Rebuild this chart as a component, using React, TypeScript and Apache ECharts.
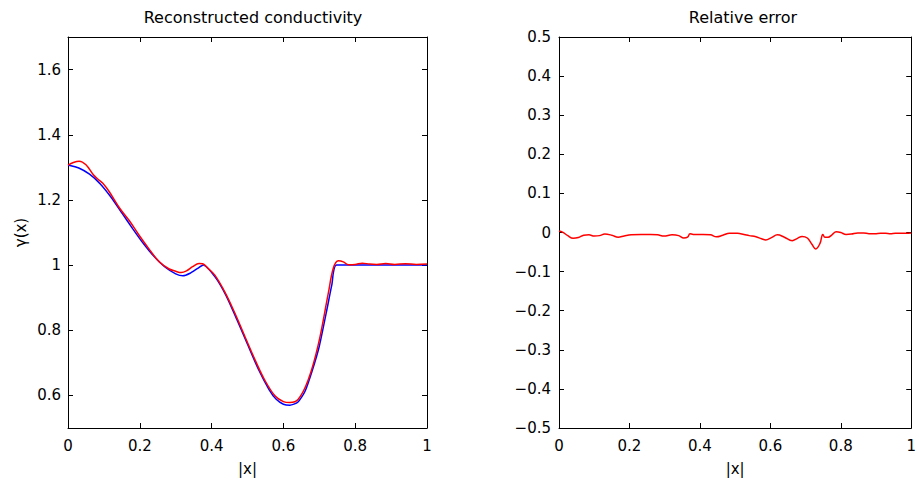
import React, { useEffect, useRef } from "react";
import * as echarts from "echarts";

// True conductivity (blue)
const trueX = [0, 0.03, 0.06, 0.09, 0.12, 0.15, 0.18, 0.21, 0.24, 0.27, 0.3, 0.32, 0.34, 0.36, 0.377, 0.41, 0.44, 0.47, 0.5, 0.53, 0.56, 0.58, 0.6, 0.618, 0.64, 0.66, 0.68, 0.7, 0.72, 0.735, 0.748, 1.0];
const trueY = [1.307, 1.298, 1.279, 1.249, 1.208, 1.16, 1.112, 1.066, 1.026, 0.994, 0.973, 0.967, 0.975, 0.989, 1.0, 0.963, 0.907, 0.834, 0.757, 0.681, 0.618, 0.588, 0.573, 0.57, 0.579, 0.612, 0.675, 0.751, 0.857, 0.94, 1.0, 1.0];

// Reconstructed conductivity (red)
const recX = [0, 0.015, 0.031, 0.05, 0.07, 0.085, 0.097, 0.115, 0.143, 0.171, 0.199, 0.226, 0.254, 0.282, 0.3, 0.315, 0.33, 0.347, 0.365, 0.375, 0.39, 0.409, 0.437, 0.465, 0.493, 0.521, 0.549, 0.577, 0.6, 0.618, 0.642, 0.669, 0.697, 0.725, 0.739, 0.753, 0.767, 0.781, 0.8, 0.82, 0.84, 0.86, 0.885, 0.91, 0.94, 0.97, 1.0];
const recY = [1.307, 1.315, 1.319, 1.308, 1.278, 1.262, 1.251, 1.225, 1.176, 1.136, 1.09, 1.049, 1.01, 0.988, 0.981, 0.977, 0.982, 0.995, 1.005, 1.004, 0.99, 0.969, 0.917, 0.852, 0.78, 0.709, 0.645, 0.598, 0.581, 0.578, 0.589, 0.647, 0.755, 0.913, 0.99, 1.013, 1.01, 1.001, 1.002, 1.006, 1.003, 1.002, 1.005, 1.002, 1.004, 1.002, 1.003];

// Relative error (red)
const errX = [0, 0.01, 0.025, 0.04, 0.055, 0.07, 0.085, 0.1, 0.115, 0.13, 0.15, 0.168, 0.185, 0.205, 0.233, 0.26, 0.28, 0.298, 0.321, 0.34, 0.354, 0.365, 0.372, 0.381, 0.409, 0.43, 0.447, 0.465, 0.484, 0.507, 0.525, 0.54, 0.559, 0.575, 0.587, 0.603, 0.62, 0.64, 0.662, 0.677, 0.69, 0.705, 0.718, 0.729, 0.741, 0.749, 0.755, 0.764, 0.775, 0.787, 0.8, 0.815, 0.83, 0.848, 0.865, 0.88, 0.897, 0.913, 0.927, 0.941, 0.955, 0.969, 0.985, 1.0];
const errY = [0.004, 0.001, -0.008, -0.015, -0.013, -0.007, -0.006, -0.009, -0.008, -0.004, -0.007, -0.012, -0.009, -0.006, -0.005, -0.005, -0.006, -0.009, -0.006, -0.008, -0.014, -0.012, -0.003, -0.005, -0.005, -0.006, -0.011, -0.007, -0.002, -0.002, -0.005, -0.008, -0.011, -0.016, -0.019, -0.013, -0.006, -0.012, -0.021, -0.015, -0.01, -0.014, -0.03, -0.042, -0.028, -0.005, -0.012, -0.012, -0.006, 0.002, 0.0, -0.005, -0.004, -0.001, -0.001, -0.003, -0.003, -0.002, -0.002, -0.003, -0.002, -0.002, -0.002, -0.001];

const xTicks = [0, 0.2, 0.4, 0.6, 0.8, 1];
const leftYTicks = [0.6, 0.8, 1.0, 1.2, 1.4, 1.6];
const rightYTicks = [-0.5, -0.4, -0.3, -0.2, -0.1, 0, 0.1, 0.2, 0.3, 0.4, 0.5];

const titles = ["Reconstructed conductivity", "Relative error"];

const FONT = "DejaVu Sans";

const fmt = (v: number) => {
  const r = Math.round(v * 10) / 10;
  if (r === 0) return "0";
  const s = Math.abs(r) === Math.round(Math.abs(r)) ? String(Math.abs(r)) : Math.abs(r).toFixed(1);
  return r < 0 ? "\u2212" + s : s;
};

const zip = (xs: number[], ys: number[]) => xs.map((x, i) => [x, ys[i]]);

export default function App() {
  const ref = useRef<HTMLDivElement>(null);
  useEffect(() => {
    if (!ref.current) return;
    const chart = echarts.init(ref.current, undefined, { renderer: "svg" });
    const axisLine = { show: true, onZero: false, lineStyle: { color: "#000", width: 1 } };
    const tick = (vals: number[]) => ({ show: true, inside: true, length: 5, customValues: vals, lineStyle: { color: "#000", width: 1 } });
    const label = (vals: number[], margin: number) => ({
      show: true,
      customValues: vals,
      formatter: (v: number) => fmt(v),
      color: "#000",
      fontFamily: FONT,
      fontSize: 15,
      margin,
    });
    const nameStyle = { color: "#000", fontFamily: FONT, fontSize: 15 };
    const xAxes: any[] = [];
    const yAxes: any[] = [];
    [0, 1].forEach((g) => {
      xAxes.push({
        type: "value", gridIndex: g, min: 0, max: 1, position: "bottom",
        axisLine, axisTick: tick(xTicks), axisLabel: label(xTicks, 10), splitLine: { show: false },
        name: "|x|", nameLocation: "middle", nameGap: 33, nameTextStyle: nameStyle,
      });
      xAxes.push({
        type: "value", gridIndex: g, min: 0, max: 1, position: "top",
        axisLine, axisTick: tick(xTicks), axisLabel: { show: false }, splitLine: { show: false },
      });
    });
    yAxes.push({
      type: "value", gridIndex: 0, min: 0.5, max: 1.7, position: "left",
      axisLine, axisTick: tick(leftYTicks), axisLabel: label(leftYTicks, 7), splitLine: { show: false },
      name: "\u03b3(x)", nameLocation: "middle", nameGap: 40, nameTextStyle: nameStyle,
    });
    yAxes.push({
      type: "value", gridIndex: 0, min: 0.5, max: 1.7, position: "right",
      axisLine, axisTick: tick(leftYTicks), axisLabel: { show: false }, splitLine: { show: false },
    });
    yAxes.push({
      type: "value", gridIndex: 1, min: -0.5, max: 0.5, position: "left",
      axisLine, axisTick: tick(rightYTicks), axisLabel: label(rightYTicks, 8), splitLine: { show: false },
    });
    yAxes.push({
      type: "value", gridIndex: 1, min: -0.5, max: 0.5, position: "right",
      axisLine, axisTick: tick(rightYTicks), axisLabel: { show: false }, splitLine: { show: false },
    });

    const titleStyle = { fontFamily: FONT, fontSize: 16, fontWeight: "normal", color: "#000" };
    chart.setOption({
      animation: false,
      backgroundColor: "#fff",
      title: [
        { text: titles[0], left: 248, top: 4, textAlign: "center", textStyle: titleStyle },
        { text: titles[1], left: 738, top: 4, textAlign: "center", textStyle: titleStyle },
      ],
      grid: [
        { left: 68, top: 37, width: 359, height: 391, containLabel: false },
        { left: 559, top: 37, width: 358, height: 391, containLabel: false },
      ],
      xAxis: xAxes,
      yAxis: yAxes,
      series: [
        { type: "line", xAxisIndex: 0, yAxisIndex: 0, data: zip(trueX, trueY), smooth: 0.2, showSymbol: false, lineStyle: { color: "#0000ff", width: 1.5 } },
        { type: "line", xAxisIndex: 0, yAxisIndex: 0, data: zip(recX, recY), smooth: 0.35, showSymbol: false, lineStyle: { color: "#ff0000", width: 1.5 } },
        { type: "line", xAxisIndex: 2, yAxisIndex: 2, data: zip(errX, errY), smooth: 0.4, showSymbol: false, lineStyle: { color: "#ff0000", width: 1.5 } },
      ],
    });
    return () => chart.dispose();
  }, []);
  return <div ref={ref} style={{ position: "fixed", left: 0, top: 0, width: 919, height: 488, background: "#fff" }} />;
}
